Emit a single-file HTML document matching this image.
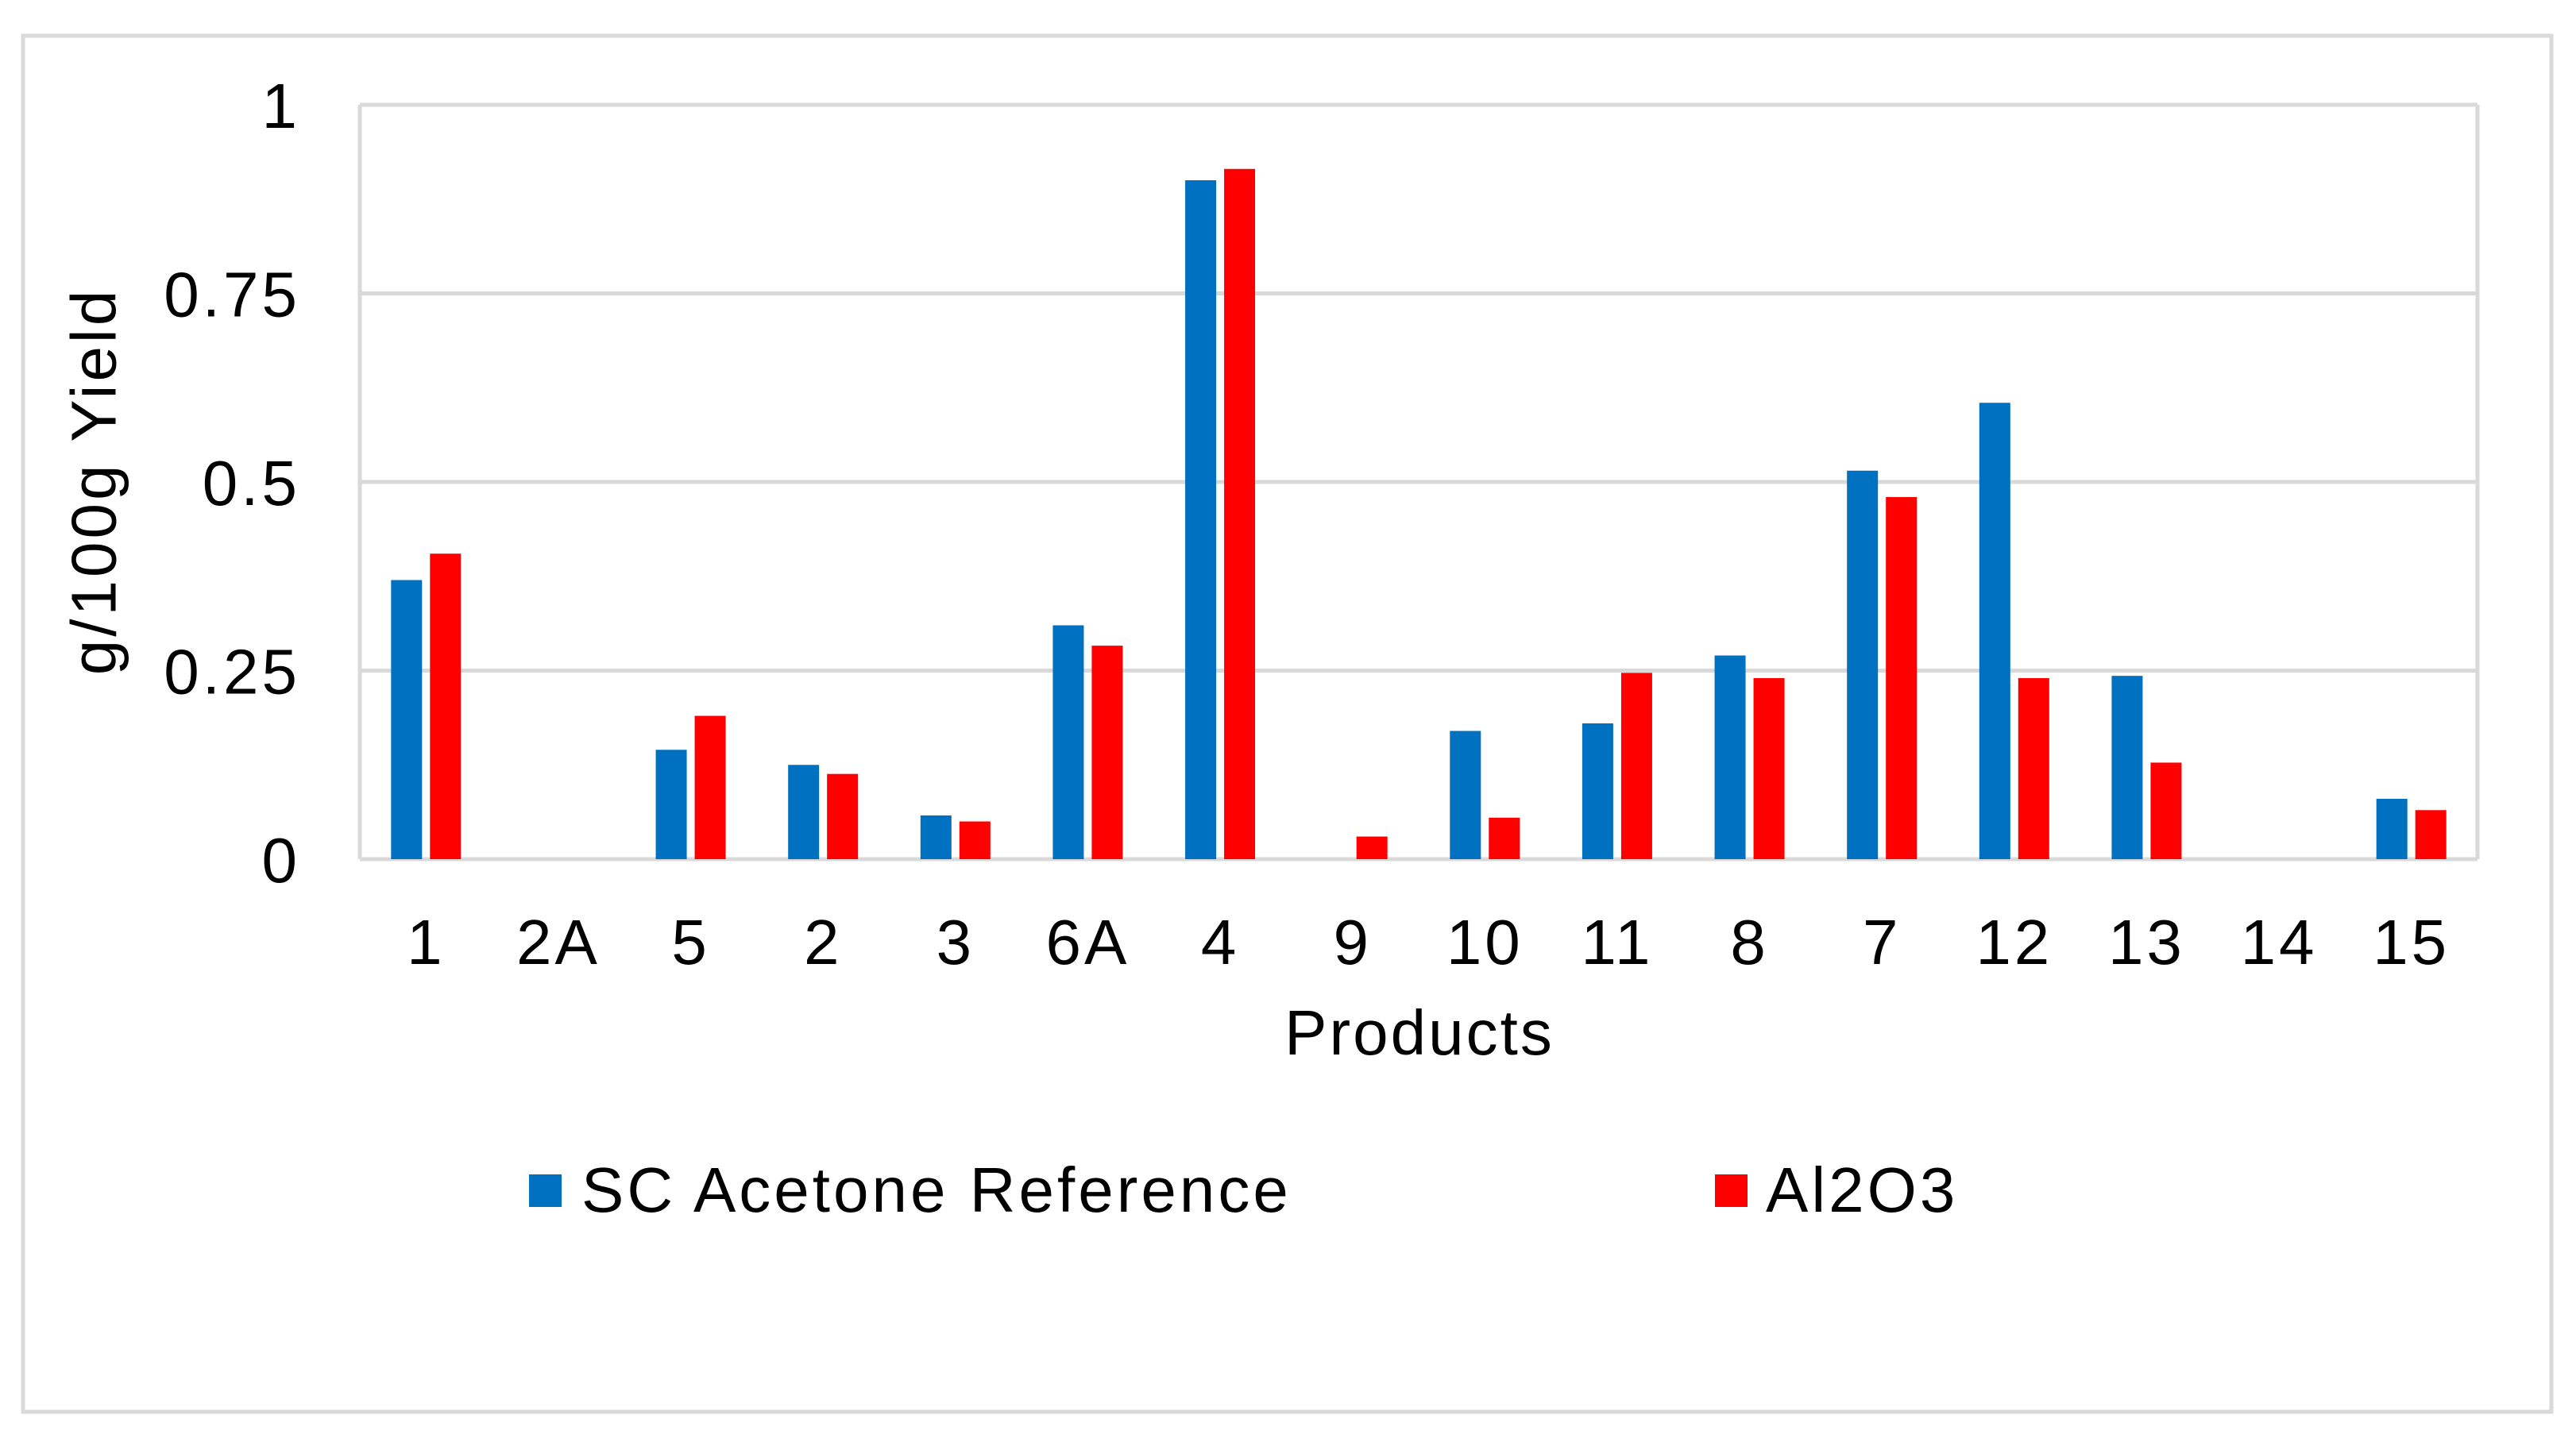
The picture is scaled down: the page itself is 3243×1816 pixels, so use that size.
<!DOCTYPE html>
<html><head><meta charset="utf-8"><style>
html,body{margin:0;padding:0;background:#fff;}
svg{display:block;font-family:"Liberation Sans",Arial,sans-serif;}
</style></head><body>
<svg id="chart" width="3243" height="1816" viewBox="0 0 3243 1816">
<rect x="29" y="45" width="3183" height="1733" fill="#fff" stroke="#d9d9d9" stroke-width="5"/>
<g id="grid"></g>
<g id="bars"></g>
<g id="yticks"></g>
<g id="xticks"></g>
<text x="118" y="606" font-size="80" letter-spacing="4" text-anchor="middle" transform="rotate(-90 118 606)" dominant-baseline="central" fill="#000">g/100g Yield</text>
<text x="1787" y="1328" font-size="80" letter-spacing="3" text-anchor="middle" fill="#000">Products</text>
<g>
<g>
<rect x="666" y="1479" width="41" height="41" fill="#0070c0"/>
<text x="732" y="1526" font-size="80" letter-spacing="4" fill="#000">SC Acetone Reference</text>
</g>
<g>
<rect x="2159" y="1479" width="41" height="41" fill="#ff0000"/>
<text x="2223" y="1526" font-size="80" letter-spacing="4" fill="#000">Al2O3</text>
</g>
</g>
</svg>
<script>
const categories = ["1","2A","5","2","3","6A","4","9","10","11","8","7","12","13","14","15"];
const scAcetone = [0.37,0,0.145,0.125,0.058,0.31,0.90,0,0.17,0.18,0.27,0.515,0.605,0.243,0,0.08];
const al2o3 = [0.405,0,0.19,0.113,0.05,0.283,0.915,0.03,0.055,0.247,0.24,0.48,0.24,0.128,0,0.065];
const yTicks = [0,0.25,0.5,0.75,1];
const yTickLabels = ["0","0.25","0.5","0.75","1"];

const NS = "http://www.w3.org/2000/svg";
const L = 453, R = 3119, T = 132, B = 1082;
const yMin = 0, yMax = 1;
function yScale(v){ return B - (v - yMin) / (yMax - yMin) * (B - T); }
const bw = (R - L) / categories.length;
function xCenter(i){ return L + bw * (i + 0.5); }
function mk(tag, attrs, parent){
  const e = document.createElementNS(NS, tag);
  for (const k in attrs) e.setAttribute(k, attrs[k]);
  parent.appendChild(e);
  return e;
}
const grid = document.getElementById('grid');
yTicks.forEach((t, i) => {
  const ln = mk('line', {x1: L, x2: R, y1: yScale(t), y2: yScale(t), stroke: '#d9d9d9', 'stroke-width': 5}, grid);
  
  
  const tx = mk('text', {x: 378, y: yScale(t) + 29, 'font-size': 80, 'letter-spacing': 4, 'text-anchor': 'end', fill: '#000'}, document.getElementById('yticks'));
  tx.textContent = yTickLabels[i];
  
  
});
const ax = mk('line', {x1: L, x2: L, y1: T, y2: B, stroke: '#d9d9d9', 'stroke-width': 5}, grid);


const ax2 = mk('line', {x1: R, x2: R, y1: T, y2: B, stroke: '#d9d9d9', 'stroke-width': 5}, grid);


const barsG = document.getElementById('bars');
const barW = 39;
categories.forEach((c, i) => {
  const cx = xCenter(i);
  const y1 = yScale(scAcetone[i]);
  const b1 = mk('rect', {x: cx - 44, y: y1, width: barW, height: B - y1, fill: '#0070c0'}, barsG);
  
  
  const y2 = yScale(al2o3[i]);
  const b2 = mk('rect', {x: cx + 5, y: y2, width: barW, height: B - y2, fill: '#ff0000'}, barsG);
  
  
  const tx = mk('text', {x: cx, y: 1214, 'font-size': 80, 'letter-spacing': 4, 'text-anchor': 'middle', fill: '#000'}, document.getElementById('xticks'));
  tx.textContent = c;
  
  
});
</script>
</body></html>
